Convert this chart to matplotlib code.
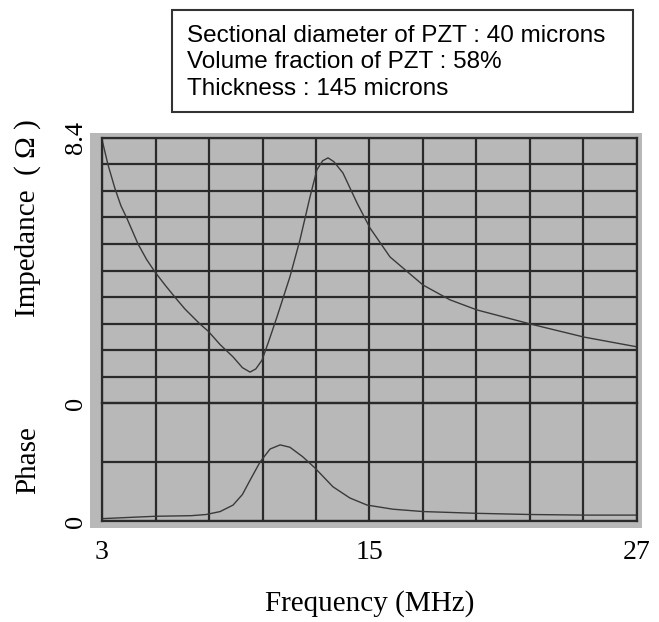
import matplotlib
matplotlib.use("Agg")
import matplotlib.pyplot as plt
from matplotlib.patches import Rectangle
import numpy as np

# ---- data ----
imp_freq = [3.0, 3.27, 3.58, 3.85, 4.12, 4.61, 5.0, 5.38, 5.85, 6.30, 6.72, 7.40, 7.76,
            8.30, 8.88, 9.30, 9.64, 9.90, 10.18, 10.50, 10.85, 11.43, 11.88, 12.33,
            12.64, 12.90, 13.14, 13.40, 13.81, 14.44, 15.02, 15.92, 17.40, 18.61, 19.82,
            22.24, 24.62, 27.0]
impedance = [8.35, 7.55, 6.80, 6.25, 5.85, 5.05, 4.55, 4.15, 3.72, 3.33, 2.98, 2.50, 2.28,
             1.85, 1.46, 1.12, 0.98, 1.08, 1.36, 2.00, 2.73, 4.00, 5.17, 6.53,
             7.39, 7.68, 7.77, 7.65, 7.29, 6.34, 5.55, 4.63, 3.74, 3.27, 2.95,
             2.50, 2.09, 1.78]

ph_freq = [3.0, 5.38, 7.0, 7.67, 8.30, 8.88, 9.30, 9.64, 10.09, 10.54, 10.99, 11.43, 12.0,
           12.55, 13.36, 14.12, 14.89, 16.05, 17.40, 19.82, 22.2, 24.6, 27.0]
phase = [0.04, 0.08, 0.09, 0.11, 0.16, 0.27, 0.45, 0.69, 1.00, 1.22, 1.29, 1.25, 1.09,
         0.90, 0.58, 0.39, 0.27, 0.20, 0.16, 0.13, 0.11, 0.10, 0.10]

x_ticks = [3, 15, 27]
info_lines = ["Sectional diameter of PZT : 40 microns",
              "Volume fraction of PZT : 58%",
              "Thickness : 145 microns"]

W, H = 659, 622
fig = plt.figure(figsize=(W / 100, H / 100), dpi=100)
fig.patch.set_facecolor("white")

serif = ["Liberation Serif", "DejaVu Serif"]
bg = "#b8b8b8"
gridc = "#2a2a2a"
curvec = "#3a3a3a"

# grey paper behind the plot area
fig.patches.append(Rectangle((90 / W, 1 - 528 / H), 552 / W, 395 / H,
                             transform=fig.transFigure, facecolor=bg,
                             edgecolor="none", zorder=-10))

left, width = 102 / W, 535 / W
ax1 = fig.add_axes([left, 1 - 403 / H, width, 265 / H])
ax2 = fig.add_axes([left, 1 - 521 / H, width, 118 / H])

vgrid = np.linspace(3, 27, 11)
for ax in (ax1, ax2):
    ax.set_facecolor(bg)
    ax.set_xlim(3, 27)
    ax.set_xticks(vgrid)
    for s in ax.spines.values():
        s.set_color(gridc)
        s.set_linewidth(1.6)
    ax.tick_params(length=0)
    ax.grid(True, color=gridc, linewidth=1.6)
    ax.set_axisbelow(True)

# impedance panel
ax1.set_ylim(0, 8.4)
ax1.set_yticks(np.linspace(0, 8.4, 11))
ax1.set_yticklabels(["0"] + [""] * 9 + ["8.4"], rotation=90, va="center",
                    family=serif, fontsize=19)
ax1.tick_params(axis="y", pad=11)
ax1.set_xticklabels([])
ax1.spines["bottom"].set_visible(False)
ax1.plot(imp_freq, impedance, color=curvec, linewidth=1.0)

# phase panel
ax2.set_ylim(0, 2)
ax2.set_yticks([0, 1, 2])
ax2.set_yticklabels(["0", "", ""], rotation=90, va="center", family=serif, fontsize=19)
ax2.tick_params(axis="y", pad=11)
ax2.set_xticklabels([f"{t:g}" if round(t) in x_ticks and abs(t - round(t)) < 1e-6 else ""
                     for t in vgrid], family=serif, fontsize=20)
ax2.tick_params(axis="x", pad=14)
ax2.plot(ph_freq, phase, color=curvec, linewidth=1.0)

# axis titles
fig.text(28 / W, 1 - 218 / H, "Impedance  ( Ω )", rotation=90, ha="center", va="center",
         family=serif, fontsize=21)
fig.text(28 / W, 1 - 460 / H, "Phase", rotation=90, ha="center", va="center",
         family=serif, fontsize=21)
fig.text(370 / W, 1 - 604 / H, "Frequency (MHz)", ha="center", va="center",
         family=serif, fontsize=21)

# info box
fig.patches.append(Rectangle((172 / W, 1 - 112 / H), 461 / W, 102 / H,
                             transform=fig.transFigure, facecolor="white",
                             edgecolor="#333333", linewidth=1.5, zorder=5))
for i, line in enumerate(info_lines):
    fig.text(187 / W, 1 - (36 + 26.5 * i) / H, line, ha="left", va="center",
             family=["Liberation Sans", "DejaVu Sans"], fontsize=17.5, zorder=6)

fig.savefig("out.png", dpi=100)
